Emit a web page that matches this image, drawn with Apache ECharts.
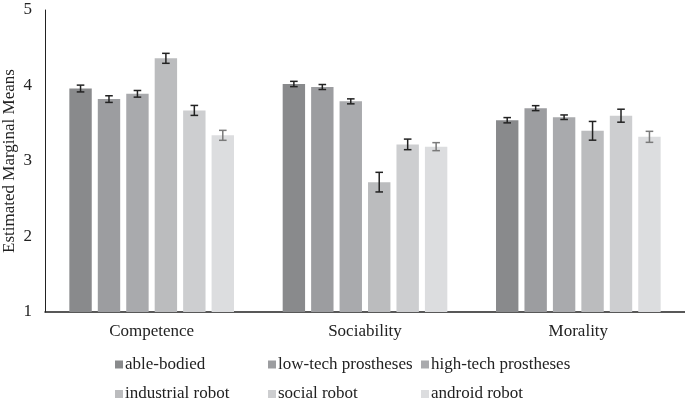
<!DOCTYPE html>
<html>
<head>
<meta charset="utf-8">
<script src="https://cdn.jsdelivr.net/npm/echarts@6/dist/echarts.min.js"></script>
<style>html,body{margin:0;padding:0;background:#fff}#c{width:685px;height:405px}</style>
</head>
<body>
<div id="c"></div>
<script>
const categories = ['Competence', 'Sociability', 'Morality'];
const seriesNames = ['able-bodied', 'low-tech prostheses', 'high-tech prostheses', 'industrial robot', 'social robot', 'android robot'];
const ableBodied = [3.96, 4.02, 3.54];
const lowTech = [3.82, 3.98, 3.70];
const highTech = [3.89, 3.79, 3.58];
const industrialRobot = [4.36, 2.72, 3.40];
const socialRobot = [3.67, 3.22, 3.60];
const androidRobot = [3.34, 3.19, 3.32];
const ableBodiedErr = [0.045, 0.035, 0.035];
const lowTechErr = [0.044, 0.033, 0.033];
const highTechErr = [0.044, 0.033, 0.030];
const industrialRobotErr = [0.066, 0.13, 0.124];
const socialRobotErr = [0.066, 0.07, 0.086];
const androidRobotErr = [0.066, 0.053, 0.073];
const yTicks = [1, 2, 3, 4, 5];

const values = [ableBodied, lowTech, highTech, industrialRobot, socialRobot, androidRobot];
const errors = [ableBodiedErr, lowTechErr, highTechErr, industrialRobotErr, socialRobotErr, androidRobotErr];
const colors = ['#898a8c', '#9c9da0', '#a9aaad', '#bbbcbe', '#cdced0', '#dcdddf'];
const errColors = ['#222', '#222', '#222', '#222', '#222', '#7a7a7a'];
const BAR_W = 22.4, STRIDE = 28.45;
const FONT = "'Liberation Serif', 'Times New Roman', serif";
const FS = 17;

const series = [];
values.forEach((vals, i) => {
  series.push({
    name: seriesNames[i], type: 'bar', data: vals, barWidth: BAR_W, barGap: '27%',
    itemStyle: { color: colors[i] }, silent: true, animation: false
  });
});
values.forEach((vals, i) => {
  series.push({
    type: 'custom', animation: false, silent: true, z: 10,
    data: categories.map((c, k) => [k, vals[k] - errors[i][k], vals[k] + errors[i][k]]),
    renderItem: function (params, api) {
      const lo = api.coord([api.value(0), api.value(1)]);
      const hi = api.coord([api.value(0), api.value(2)]);
      const x = lo[0] + (i - 2.5) * STRIDE;
      const cap = 3.8;
      const st = { stroke: errColors[i], lineWidth: 1.5 };
      return { type: 'group', children: [
        { type: 'line', shape: { x1: x, y1: lo[1], x2: x, y2: hi[1] }, style: st },
        { type: 'line', shape: { x1: x - cap, y1: lo[1], x2: x + cap, y2: lo[1] }, style: st },
        { type: 'line', shape: { x1: x - cap, y1: hi[1], x2: x + cap, y2: hi[1] }, style: st }
      ]};
    }
  });
});

function legendCol(left, names) {
  return {
    left: left, top: 356, height: 60, width: 170, orient: 'vertical', itemWidth: 8, itemHeight: 8, itemGap: 12.5,
    icon: 'rect', selectedMode: false, data: names, padding: 0,
    textStyle: { fontFamily: FONT, fontSize: FS, color: '#222', padding: [0, 0, 0, -3] }
  };
}

const chart = echarts.init(document.getElementById('c'), null, { renderer: 'canvas' });
chart.setOption({
  backgroundColor: '#fff',
  color: colors,
  animation: false,
  grid: { left: 45, right: 0, top: 10, bottom: 93, containLabel: false, outerBoundsMode: 'none' },
  legend: [
    legendCol(115, [seriesNames[0], seriesNames[3]]),
    legendCol(268, [seriesNames[1], seriesNames[4]]),
    legendCol(421, [seriesNames[2], seriesNames[5]])
  ],
  xAxis: {
    type: 'category', data: categories,
    axisLine: { lineStyle: { color: '#222', width: 1.5 } },
    axisTick: { show: false },
    axisLabel: { fontFamily: FONT, fontSize: FS, color: '#222', margin: 11 }
  },
  yAxis: {
    type: 'value', min: yTicks[0], max: yTicks[yTicks.length - 1], interval: 1,
    name: 'Estimated Marginal Means', nameLocation: 'middle', nameGap: 27, nameMoveOverlap: false,
    nameTextStyle: { fontFamily: FONT, fontSize: FS, color: '#222' },
    axisLine: { show: true, lineStyle: { color: '#222', width: 1 } },
    axisTick: { show: false },
    splitLine: { show: false },
    axisLabel: { fontFamily: FONT, fontSize: FS, color: '#222', margin: 13 }
  },
  series: series
});
</script>
</body>
</html>
